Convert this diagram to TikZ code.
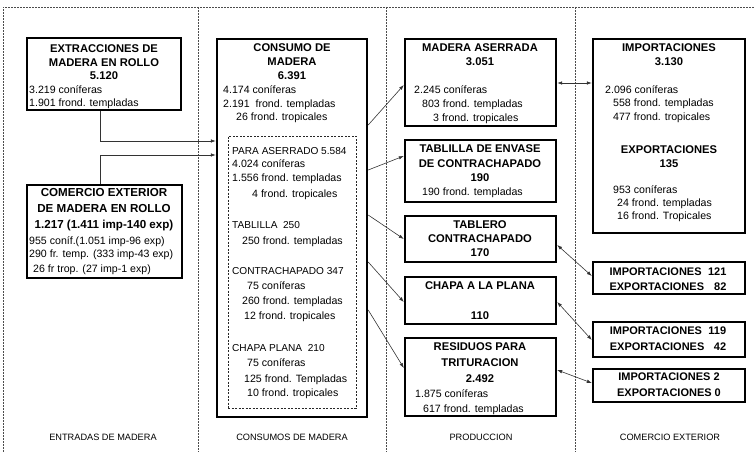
\documentclass[tikz,border=0pt]{standalone}
\usepackage{fontspec}
\setmainfont{Liberation Sans}
\usetikzlibrary{arrows.meta,calc}
\tikzset{
  box/.style={draw, line width=2.8pt, inner sep=0pt, outer sep=1.2pt},
  ibox/.style={draw=black!85, line width=0.6pt, dash pattern=on 2pt off 1.5pt, inner sep=0pt},
  frame/.style={draw=black!70, line width=0.5pt, dash pattern=on 2pt off 1pt},
  arr/.style={draw=black!80, line width=0.6pt, -{Latex[length=5pt,width=3.5pt]}},
  darr/.style={draw=black!80, line width=0.6pt, {Latex[length=5pt,width=3.5pt]}-{Latex[length=5pt,width=3.5pt]}},
  ttl/.style={font=\fontsize{11.2}{14}\selectfont\bfseries, inner sep=0pt, anchor=center, align=center},
  bdy/.style={font=\fontsize{10.6}{12}\selectfont, inner sep=0pt, anchor=base west, yshift=-3.8pt},
  sec/.style={bdy, font=\fontsize{10.1}{12}\selectfont, yshift=0.2pt},
  lab/.style={font=\fontsize{9.2}{11}\selectfont, inner sep=0pt},
}
\newcommand\bx[5]{\node[box, minimum width={(#4-#2)*1pt}, minimum height={(#5-#3)*1pt}] (#1) at ({(#2+#4)/2},{(#3+#5)/2}) {};}
\newcommand\bodyline[4]{\node[bdy] (#1) at (#2,#3) {#4};}
\newcommand\secline[4]{\node[sec] (#1) at (#2,#3) {#4};}
\begin{document}
\begin{tikzpicture}[x=1pt,y=-1pt]
\useasboundingbox (0,0) rectangle (755,452);
% dashed frame
\draw[frame] (3,452) -- (3,7) -- (755,7);
\draw[frame] (198,7) -- (198,452);
\draw[frame] (386,7) -- (386,452);
\draw[frame] (575,7) -- (575,452);

% column 1
\bx{A}{27}{38}{181}{110}
\node[ttl, font=\fontsize{11.2}{13.5}\selectfont\bfseries] (At) at (104,62.5) {EXTRACCIONES DE\\MADERA EN ROLLO\\5.120};
\bodyline{A1}{29}{90}{3.219 coníferas}
\bodyline{A2}{29}{103}{1.901 frond. templadas}

\bx{B}{27}{185}{182}{278}
\node[ttl, font=\fontsize{11.6}{16}\selectfont\bfseries] (Bt) at (104,210) {COMERCIO EXTERIOR\\DE MADERA EN ROLLO\\1.217 (1.411 imp-140 exp)};
\bodyline{B1}{29}{241}{955 coníf.(1.051 imp-96 exp)}
\bodyline{B2}{29}{254}{290 fr. temp. (333 imp-43 exp)}
\bodyline{B3}{33}{269}{26 fr trop. (27 imp-1 exp)}

% column 2
\bx{C}{217}{39}{367}{417}
\node[ttl] (Ct) at (292,62) {CONSUMO DE\\MADERA\\6.391};
\bodyline{C1}{223}{90}{4.174 coníferas}
\bodyline{C2}{223}{104}{2.191 \ frond. templadas}
\bodyline{C3}{236}{117}{26 frond. tropicales}
\node[ibox, minimum width=128pt, minimum height=272pt] (Ci) at (292,272) {};
\secline{D1}{232}{151}{PARA ASERRADO 5.584}
\bodyline{D2}{232}{164}{4.024 coníferas}
\bodyline{D3}{232}{178}{1.556 frond. templadas}
\bodyline{D4}{252}{194}{4 frond. tropicales}
\secline{D5}{232}{225}{TABLILLA \ 250}
\bodyline{D6}{242}{241}{250 frond. templadas}
\secline{D7}{232}{271}{CONTRACHAPADO 347}
\bodyline{D8}{247}{286}{75 coníferas}
\bodyline{D9}{242}{301}{260 frond. templadas}
\bodyline{D10}{244}{316}{12 frond. tropicales}
\secline{D11}{232}{348}{CHAPA PLANA \ 210}
\bodyline{D12}{247}{363}{75 coníferas}
\bodyline{D13}{244}{379}{125 frond. Templadas}
\bodyline{D14}{247}{393}{10 frond. tropicales}

% column 3
\bx{MA}{405}{39}{556}{126}
\node[ttl] (MAt) at (480,55) {MADERA ASERRADA\\3.051};
\bodyline{MA1}{414}{90}{2.245 coníferas}
\bodyline{MA2}{422}{104}{803 frond. templadas}
\bodyline{MA3}{433}{118}{3 frond. tropicales}

\bx{TE}{405}{140}{556}{202}
\node[ttl, font=\fontsize{11.2}{14.5}\selectfont\bfseries] (TEt) at (480,163.5) {TABLILLA DE ENVASE\\DE CONTRACHAPADO\\190};
\bodyline{TE1}{422}{192}{190 frond. templadas}

\bx{TC}{405}{216}{556}{262}
\node[ttl] (TCt) at (480,239) {TABLERO\\CONTRACHAPADO\\170};

\bx{CH}{405}{277}{556}{324}
\node[ttl] (CHt) at (480,286) {CHAPA A LA PLANA};
\node[ttl] (CHn) at (480,316) {110};

\bx{RS}{405}{338}{556}{416}
\node[ttl, font=\fontsize{11.2}{16}\selectfont\bfseries] (RSt) at (480,363) {RESIDUOS PARA\\TRITURACION\\2.492};
\bodyline{RS1}{415}{394}{1.875 coníferas}
\bodyline{RS2}{423}{409}{617 frond. templadas}

% column 4
\bx{IM}{593}{39}{745}{233}
\node[ttl] (IMt) at (669,55) {IMPORTACIONES\\3.130};
\bodyline{IM1}{605}{90}{2.096 coníferas}
\bodyline{IM2}{613}{103}{558 frond. templadas}
\bodyline{IM3}{613}{117}{477 frond. tropicales}
\node[ttl, font=\fontsize{11.2}{13.5}\selectfont\bfseries] (EXt) at (669,156.5) {EXPORTACIONES\\135};
\bodyline{EX1}{613}{190}{953 coníferas}
\bodyline{EX2}{617}{203}{24 frond. templadas}
\bodyline{EX3}{617}{216}{16 frond. Tropicales}

\bx{IEa}{593}{262}{745}{294}
\node[ttl, font=\fontsize{11}{15}\selectfont\bfseries] (IEat) at (668,279.5) {\begin{tabular}{@{}l@{\hspace{4pt}}r@{}}IMPORTACIONES & 121\\EXPORTACIONES & 82\end{tabular}};
\bx{IEb}{593}{322}{745}{357}
\node[ttl, font=\fontsize{11}{16}\selectfont\bfseries] (IEbt) at (668,339) {\begin{tabular}{@{}l@{\hspace{4pt}}r@{}}IMPORTACIONES & 119\\EXPORTACIONES & 42\end{tabular}};
\bx{IEc}{593}{369}{745}{402}
\node[ttl, font=\fontsize{11}{16}\selectfont\bfseries] (IEct) at (669,385) {IMPORTACIONES 2\\EXPORTACIONES 0};

% bottom labels
\node[lab] (L1) at (103,437) {ENTRADAS DE MADERA};
\node[lab] (L2) at (292,437) {CONSUMOS DE MADERA};
\node[lab] (L3) at (481,437) {PRODUCCION};
\node[lab] (L4) at (670,437) {COMERCIO EXTERIOR};

% connectors
\draw[arr] ([xshift=-4pt]A.south) |- (C.west |- 0,141);
\draw[arr] ([xshift=-4.5pt]B.north) |- (C.west |- 0,155);
\draw[arr] (C.east |- 0,125) -- (MA.west |- 0,85);
\draw[arr] (C.east |- 0,170) -- (TE.west |- 0,156);
\draw[arr] (C.east |- 0,215) -- (TC.west |- 0,239);
\draw[arr] (C.east |- 0,262) -- (CH.west |- 0,302);
\draw[arr] (C.east |- 0,310) -- (RS.west |- 0,368);
\draw[darr] (MA.east |- 0,83) -- (IM.west |- 0,83);
\draw[darr] (TC.east |- 0,245) -- (IEa.west |- 0,276);
\draw[darr] (CH.east |- 0,302) -- (IEb.west |- 0,340);
\draw[darr] (RS.east |- 0,370) -- (IEc.west |- 0,383);
\end{tikzpicture}
\end{document}
